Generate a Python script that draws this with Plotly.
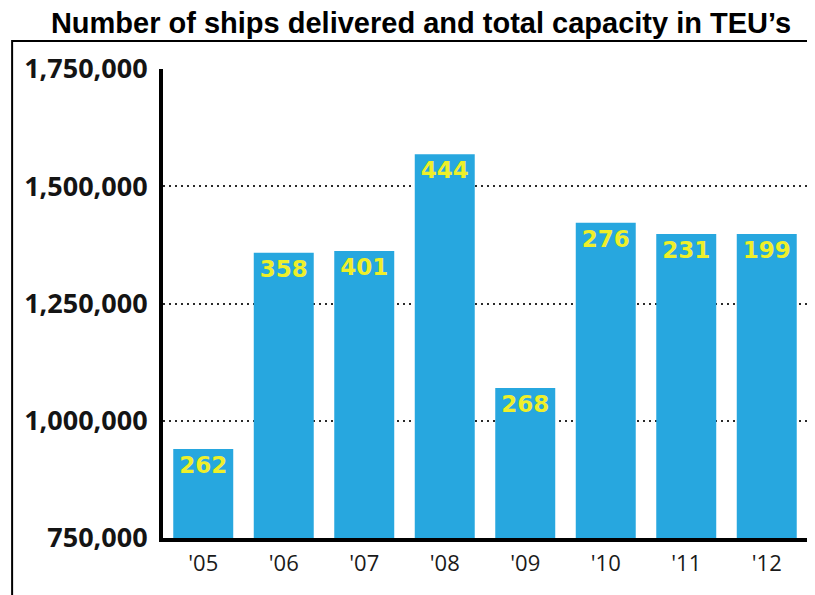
import plotly.graph_objects as go

years = ["'05", "'06", "'07", "'08", "'09", "'10", "'11", "'12"]
capacity_teu = [940000, 1358000, 1362000, 1568000, 1070000, 1422000, 1398000, 1398000]
ships_delivered = [262, 358, 401, 444, 268, 276, 231, 199]
y_ticks = [750000, 1000000, 1250000, 1500000, 1750000]

# page body has an 8px margin: work in figure coordinates = screen - 8
OFF = 8
W, H = 815 - OFF, 595 - OFF
L, R, T, B = 163 - OFF, 7.5, 69 - OFF, 595 - 538
pw = W - L - R
ph = H - T - B

def px_x(sx):
    return (sx - OFF - L) / pw

def px_y(sy):
    return (H - B - (sy - OFF)) / ph

fig = go.Figure()
fig.add_trace(go.Bar(
    x=years,
    y=capacity_teu,
    text=[str(v) for v in ships_delivered],
    textposition="inside",
    insidetextanchor="end",
    textangle=0,
    constraintext="none",
    textfont=dict(family="DejaVu Sans", size=23, color="#eeef2a", weight="bold"),
    marker=dict(color="#27a7df", line=dict(width=0)),
    cliponaxis=False,
))

fig.update_layout(
    width=W, height=H,
    margin=dict(l=L, r=R, t=T, b=B),
    paper_bgcolor="white",
    plot_bgcolor="white",
    bargap=0.255,
    showlegend=False,
    title=dict(
        text="<b>Number of ships delivered and total capacity in TEU\u2019s</b>",
        font=dict(family="Liberation Sans, Arial", size=29, color="black"),
        x=(421 - OFF) / W, xref="container", xanchor="center",
        y=1 - (23 - OFF) / H, yref="container", yanchor="middle",
    ),
    font=dict(family="Open Sans"),
    shapes=[dict(
        type="rect", xref="paper", yref="paper",
        x0=px_x(12), x1=px_x(812), y0=px_y(620), y1=px_y(41),
        line=dict(color="black", width=2), fillcolor="rgba(0,0,0,0)", layer="above",
    )],
)

fig.update_xaxes(
    type="category",
    range=[-0.5, 7.5],
    showline=True, linecolor="black", linewidth=4,
    ticks="", showgrid=False, zeroline=False,
    tickfont=dict(family="Open Sans", size=22, color="#1a1a1a"),
    ticklabelstandoff=3,
)
fig.update_yaxes(
    range=[750000, 1750000],
    tickvals=y_ticks,
    tickformat=",",
    showline=True, linecolor="black", linewidth=4,
    ticks="", zeroline=False,
    showgrid=True, gridcolor="#2a2a2a", gridwidth=2, griddash="2px,4px",
    tickfont=dict(family="Open Sans", size=27, color="#141414", weight="bold"),
    ticklabelstandoff=6,
)

fig.write_html("out.html")
